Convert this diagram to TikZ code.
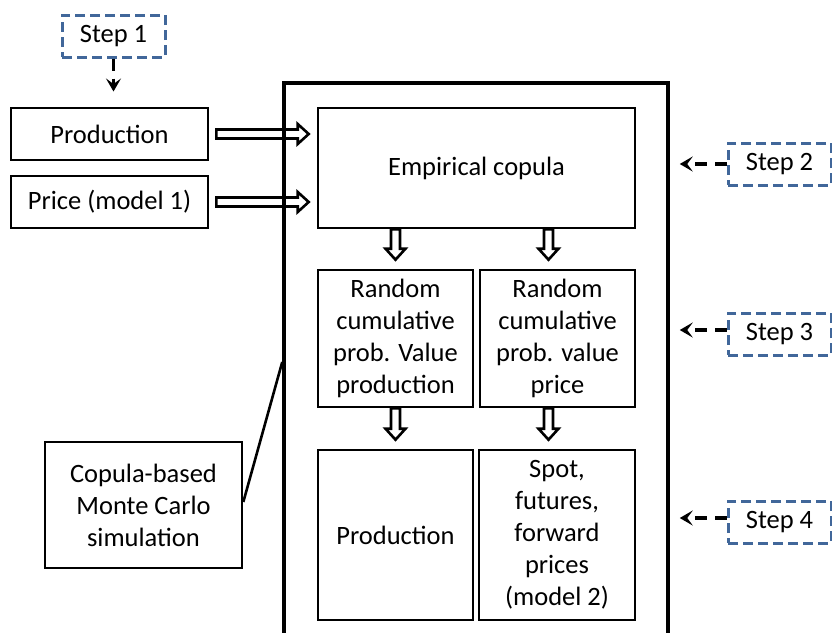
\documentclass[tikz,border=0pt]{standalone}
\usepackage{fontspec}
\setmainfont{Carlito}
\usetikzlibrary{arrows.meta,calc}
\definecolor{stepblue}{HTML}{41679A}
\tikzset{
  txt/.style={font=\fontsize{26.5}{32}\selectfont},
  box/.style={txt, draw=black, line width=2.6pt, align=center, inner sep=0pt},
  stepbox/.style={txt, draw=stepblue, line width=3pt, dash pattern=on 10pt off 5pt,
    minimum width=103pt, minimum height=42pt, inner sep=0pt},
  dasharrow/.style={line width=3.2pt, dash pattern=on 12pt off 8pt,
    -{Stealth[length=13pt,width=15pt,inset=5.5pt]}},
  hollow/.style={draw=black, line width=2.6pt, fill=white, line join=miter},
  frame/.style={draw=black, line width=3.5pt, inner sep=0pt},
  link/.style={draw=black, line width=2.6pt},
}
\newcommand\hollowarrow[2]{%
  \path (#1) coordinate (hs) (#2) coordinate (he);
  \path ($(he)!11pt!(hs)$) coordinate (hc);
  \draw[hollow] ($(hs)!4.5pt!90:(he)$) -- ($(hc)!4.5pt!90:(he)$) -- ($(hc)!10pt!90:(he)$)
    -- (he) -- ($(hc)!10pt!-90:(he)$) -- ($(hc)!4.5pt!-90:(he)$) -- ($(hs)!4.5pt!-90:(he)$) -- cycle;
}
\begin{document}
\begin{tikzpicture}[x=1pt,y=-1pt]
\clip (0,0) rectangle (832,632);
\fill[white] (0,0) rectangle (832,632);

% left input boxes
\node[stepbox] (s1) at (113.5,36) {Step 1};
\node[box, minimum width=197pt, minimum height=52pt] (prod) at (109.5,134) {Production};
\node[box, minimum width=197pt, minimum height=52pt] (price) at (109.5,202) {Price (model 1)};
\node[box, minimum width=197pt, minimum height=126pt] (mc) at (143.5,505) {Copula-based\\Monte Carlo\\simulation};

% inner boxes
\node[box, minimum width=317pt, minimum height=120pt] (cop) at (476.5,168) {Empirical copula};
\node[box, minimum width=155pt, minimum height=137pt] (r1) at (395.5,338.5) {Random\\cumulative\\prob. Value\\production};
\node[box, minimum width=155pt, minimum height=137pt] (r2) at (557.5,338.5) {Random\\cumulative\\prob. value\\price};
\node[box, minimum width=155pt, minimum height=170pt] (b1) at (395.5,535) {Production};
\node[box, minimum width=156pt, minimum height=170pt] (b2) at (557,535) {Spot,\\futures,\\forward\\prices\\(model 2)};

% right step boxes
\node[stepbox] (s2) at (779.5,164) {Step 2};
\node[stepbox] (s3) at (779.5,334) {Step 3};
\node[stepbox] (s4) at (779.5,522) {Step 4};

% hollow arrows
\coordinate (a1s) at ($(prod.east)+(7,0)$);
\coordinate (a1e) at ($(cop.west |- prod.east)+(-8,0)$);
\hollowarrow{a1s}{a1e}
\coordinate (a2s) at ($(price.east)+(7,0)$);
\coordinate (a2e) at ($(cop.west |- price.east)+(-8,0)$);
\hollowarrow{a2s}{a2e}
\coordinate (a3s) at (r1.north |- cop.south);
\coordinate (a3e) at ($(r1.north)+(0,-9)$);
\hollowarrow{a3s}{a3e}
\coordinate (a4s) at ($(r2.north |- cop.south)+(-9,0)$);
\coordinate (a4e) at ($(r2.north)+(-9,-9)$);
\hollowarrow{a4s}{a4e}
\coordinate (a5s) at (r1.south);
\coordinate (a5e) at ($(b1.north)+(0,-9)$);
\hollowarrow{a5s}{a5e}
\coordinate (a6s) at ($(r2.south)+(-9,0)$);
\coordinate (a6e) at ($(b2.north)+(-8.5,-9)$);
\hollowarrow{a6s}{a6e}

% outer frame
\node[frame, minimum width=384pt, minimum height=577pt] (frame) at (476,371.5) {};

% link from description box to frame
\coordinate (mctip) at ([yshift=9.5pt]frame.west);
\draw[link] ([yshift=3pt]mc.east) -- (mctip);

% dashed step arrows
\coordinate (s1tip) at ($(s1.south)+(0,33)$);
\draw[dasharrow] (s1.south) -- (s1tip);
\draw[dasharrow, shorten >=10pt] (s2.west) -- (s2.west -| frame.east);
\draw[dasharrow, shorten >=10pt] ([yshift=4pt]s3.west) -- ([yshift=4pt]s3.west -| frame.east);
\draw[dasharrow, shorten >=10pt] ([yshift=4pt]s4.west) -- ([yshift=4pt]s4.west -| frame.east);
\end{tikzpicture}
\end{document}
